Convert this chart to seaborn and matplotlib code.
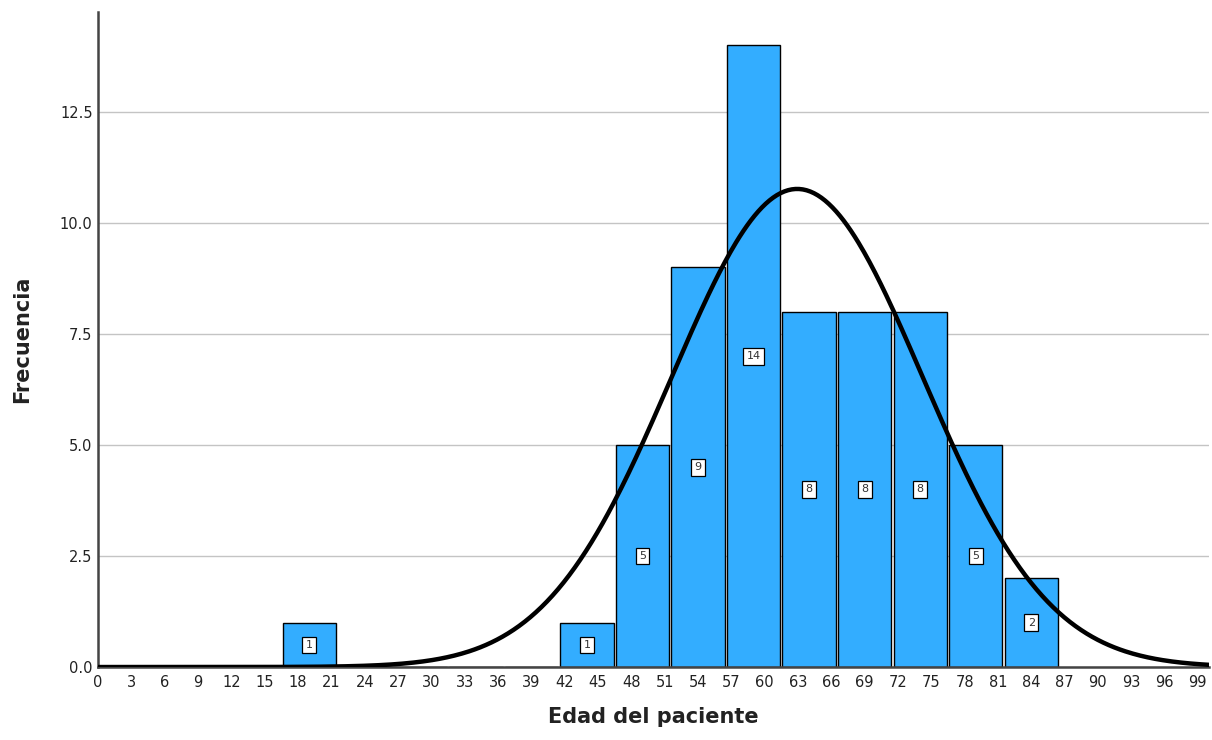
import numpy as np
import pandas as pd
import matplotlib
matplotlib.use("Agg")
import matplotlib.pyplot as plt
import seaborn as sns

# Data
bin_centers = [19, 44, 49, 54, 59, 64, 69, 74, 79, 84]
counts = [1, 1, 5, 9, 14, 8, 8, 8, 5, 2]
bin_edges = [16.5, 21.5, 26.5, 31.5, 36.5, 41.5, 46.5, 51.5, 56.5, 61.5, 66.5, 71.5, 76.5, 81.5, 86.5]
x_ticks = list(range(0, 100, 3))
y_ticks = [0.0, 2.5, 5.0, 7.5, 10.0, 12.5]
mean_age = 62.93
sd_age = 11.30
n_total = 61
bin_width = 5

sns.set_theme(style="white")
plt.rcParams['font.family'] = ['DejaVu Sans']

fig = plt.figure(figsize=(12.12, 7.4), dpi=100)
ax = fig.add_axes([0.081, 0.0986, 0.9165, 0.885])

df = pd.DataFrame({"edad": bin_centers, "n": counts})
sns.histplot(data=df, x="edad", weights="n", bins=bin_edges, shrink=0.96,
             color="#33adff", alpha=1.0, edgecolor="black", linewidth=1.0,
             ax=ax, zorder=2)

# Normal curve
xs = np.linspace(0, 100, 600)
ys = n_total * bin_width / (sd_age * np.sqrt(2 * np.pi)) * np.exp(-0.5 * ((xs - mean_age) / sd_age) ** 2)
sns.lineplot(x=xs, y=ys, color="black", linewidth=3.2, ax=ax, zorder=4)

# Value labels
for c, v in zip(bin_centers, counts):
    ax.text(c, v / 2, str(v), ha="center", va="center", fontsize=8, color="#333333",
            zorder=5,
            bbox=dict(boxstyle="square,pad=0.3", facecolor="white", edgecolor="black", linewidth=0.9))

ax.set_xlim(0, 100)
ax.set_ylim(0, 14.75)
ax.set_xticks(x_ticks)
ax.set_xticklabels([str(t) for t in x_ticks], fontsize=10.5, color="#222222")
ax.set_yticks(y_ticks)
ax.set_yticklabels([f"{t:.1f}" for t in y_ticks], fontsize=10.5, color="#222222")
ax.tick_params(axis="y", length=0, pad=4)
ax.tick_params(axis="x", length=0, pad=6)

ax.yaxis.grid(True, color="#c4c4c4", linewidth=1.0, zorder=0)
ax.set_axisbelow(True)

for s in ["top", "right"]:
    ax.spines[s].set_visible(False)
for s in ["left", "bottom"]:
    ax.spines[s].set_color("#444444")
    ax.spines[s].set_linewidth(1.8)

ax.set_xlabel("Edad del paciente", fontsize=15, fontweight="bold", color="#222222", labelpad=12)
ax.set_ylabel("Frecuencia", fontsize=15, fontweight="bold", color="#222222", labelpad=20)

fig.savefig("out.png", dpi=100)
